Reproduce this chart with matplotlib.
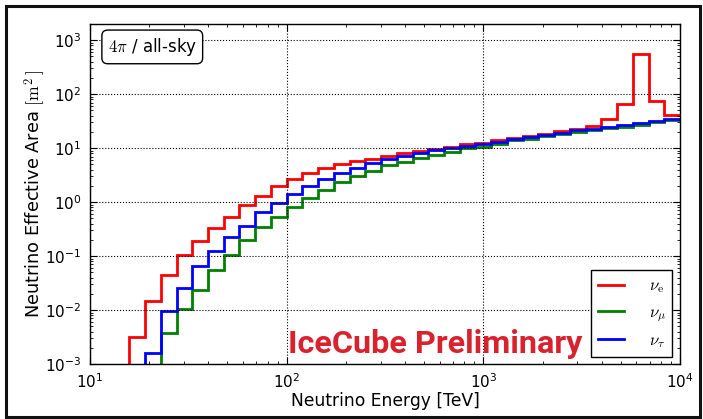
import numpy as np
import matplotlib
matplotlib.use("Agg")
import matplotlib.pyplot as plt
from matplotlib.patches import Rectangle

plt.rcParams['mathtext.fontset'] = 'cm'
plt.rcParams['axes.unicode_minus'] = False
plt.rcParams['font.family'] = ['DejaVu Sans']

# log10 bin edges (TeV), width 0.08 decade
log_edges = [1.12, 1.20, 1.28, 1.36, 1.44, 1.52, 1.60, 1.68, 1.76, 1.84, 1.92,
             2.00, 2.08, 2.16, 2.24, 2.32, 2.40, 2.48, 2.56, 2.64, 2.72, 2.80,
             2.88, 2.96, 3.04, 3.12, 3.20, 3.28, 3.36, 3.44, 3.52, 3.60, 3.68,
             3.76, 3.84, 3.92, 4.00]

# effective area per bin [m^2]; 1e-5 = below plotted range
nu_e = [1e-5, 3.2e-3, 0.015, 0.044, 0.103, 0.19, 0.325, 0.52, 0.87, 1.31, 1.98,
        2.67, 3.4, 4.2, 5.0, 5.7, 6.4, 7.2, 8.0, 8.8, 9.7, 10.6,
        11.7, 12.7, 14.0, 15.5, 16.9, 18.4, 20.4, 22.8, 26.3, 34.0,
        67.0, 550.0, 75.0, 42.0]
nu_mu = [1e-5, 1e-5, 1e-5, 3.8e-3, 0.0105, 0.0235, 0.055, 0.106, 0.195, 0.34, 0.53,
         0.80, 1.2, 1.67, 2.35, 3.0, 3.8, 4.8, 5.6, 6.7, 7.5, 8.6,
         9.9, 10.6, 12.2, 13.9, 15.1, 16.7, 18.4, 20.0, 21.5, 23.5,
         25.2, 27.4, 29.9, 32.6]
nu_tau = [1e-5, 1e-5, 1.6e-3, 9.6e-3, 0.026, 0.065, 0.124, 0.23, 0.365, 0.65, 0.97,
          1.43, 2.0, 2.7, 3.5, 4.3, 5.2, 6.25, 7.1, 8.1, 9.2, 9.9,
          11.0, 12.2, 13.1, 14.5, 16.0, 17.7, 19.5, 21.5, 23.1, 25.2,
          27.4, 29.4, 31.6, 34.4]

labels = [r'$\nu_\mathrm{e}$', r'$\nu_\mu$', r'$\nu_\tau$']
colors = ['#ff0000', '#008000', '#0000ff']

edges = 10.0 ** np.array(log_edges)

fig = plt.figure(figsize=(7.03, 4.19), dpi=100)
ax = fig.add_axes([90/703, 1-364/419, 590/703, 340/419])

for vals, lab, col in zip([nu_e, nu_mu, nu_tau], labels, colors):
    ax.stairs(vals, edges, baseline=None, color=col, lw=2.0, label=lab)

ax.set_xscale('log')
ax.set_yscale('log')
ax.set_xlim(1e1, 1e4)
ax.set_ylim(1e-3, 2e3)
ax.grid(True, which='major', color='k', linestyle=':', linewidth=0.8)
ax.tick_params(which='both', direction='in', top=True, right=True, labelsize=11)
ax.tick_params(which='major', length=5, width=0.8, pad=6)
ax.tick_params(which='minor', length=2.5, width=0.6)
for s in ax.spines.values():
    s.set_linewidth(1.0)

ax.set_xlabel('Neutrino Energy [TeV]', fontsize=12.3, labelpad=1)
ax.set_ylabel(r'Neutrino Effective Area $[\mathrm{m}^2\,]$', fontsize=12.8)
ax.yaxis.set_label_coords(-0.071, 0.5)

ax.text(0.03, 0.965, r'$4\pi$ / all-sky', transform=ax.transAxes, fontsize=12,
        ha='left', va='top',
        bbox=dict(boxstyle='round,pad=0.35', fc='white', ec='k', lw=1.0))

ax.text(0.3356, 0.032, 'IceCube Preliminary', transform=ax.transAxes,
        fontsize=23.3, fontweight='bold', family=['Roboto', 'DejaVu Sans'], color='#d8232f',
        ha='left', va='baseline')

leg = ax.legend(loc='lower right', fontsize=12, fancybox=False, framealpha=1,
                edgecolor='k', borderaxespad=0.45, handlelength=1.55,
                handletextpad=1.5, labelspacing=0.44, borderpad=0.4)
leg.get_frame().set_linewidth(1.0)

fig.patches.append(Rectangle((6/703, 2/419), 694/703, 411/419, transform=fig.transFigure,
                             fill=False, ec='#111111', lw=2.2))

fig.savefig('out.png', dpi=100)
